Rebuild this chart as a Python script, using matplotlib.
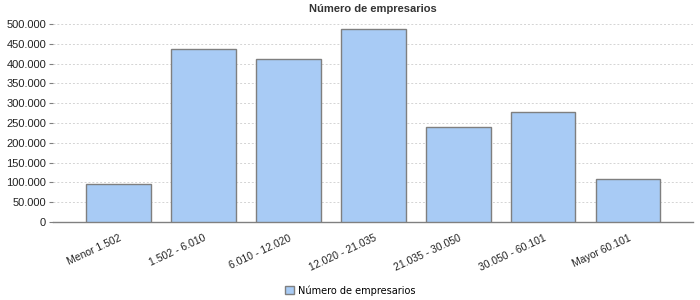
import matplotlib
matplotlib.use("Agg")
import matplotlib.pyplot as plt
import numpy as np
from matplotlib.ticker import FuncFormatter

# ---------------- data ----------------
categories = ["Menor 1.502", "1.502 - 6.010", "6.010 - 12.020", "12.020 - 21.035",
              "21.035 - 30.050", "30.050 - 60.101", "Mayor 60.101"]
empresarios = [95200, 436100, 410800, 486600, 239100, 277000, 107800]
y_ticks = list(range(0, 500001, 50000))

plt.rcParams["font.family"] = ["Liberation Sans", "DejaVu Sans"]

fig = plt.figure(figsize=(7, 3), dpi=100)
ax = fig.add_axes([0.0757, 0.26, 0.9143, 0.68])

x = np.arange(len(categories))
ax.bar(x, empresarios, width=0.755, color="#a8cbf5", edgecolor="#7f7f7f",
       linewidth=1.0, label="Número de empresarios", zorder=3)

ax.set_xlim(-0.77, 6.76)
ax.set_ylim(0, 515000)
ax.set_yticks(y_ticks)
ax.yaxis.set_major_formatter(
    FuncFormatter(lambda v, p: "0" if v == 0 else f"{int(v):,}".replace(",", ".")))
ax.grid(axis="y", color="#d4d4d4", linestyle=(0, (2, 2)), linewidth=0.7, zorder=0)

for s in ["top", "right", "left"]:
    ax.spines[s].set_visible(False)
ax.spines["bottom"].set_color("#808080")
ax.spines["bottom"].set_linewidth(1.0)

ax.set_xticks(x)
ax.set_xticklabels(categories, rotation=25, ha="right", rotation_mode="anchor")
ax.tick_params(axis="x", length=0, pad=8, labelsize=7.5, labelcolor="#222222")
ax.tick_params(axis="y", length=3, color="#808080", pad=2, labelsize=8, labelcolor="#222222")

ax.set_title("Número de empresarios", fontsize=8, fontweight="bold", color="#333333", pad=4)

fig.legend(loc="lower center", bbox_to_anchor=(0.5, -0.015), frameon=False,
           prop={"family": "DejaVu Sans", "size": 7}, handlelength=0.9, handleheight=0.9,
           handletextpad=0.4)

fig.savefig("out.png", dpi=100)
